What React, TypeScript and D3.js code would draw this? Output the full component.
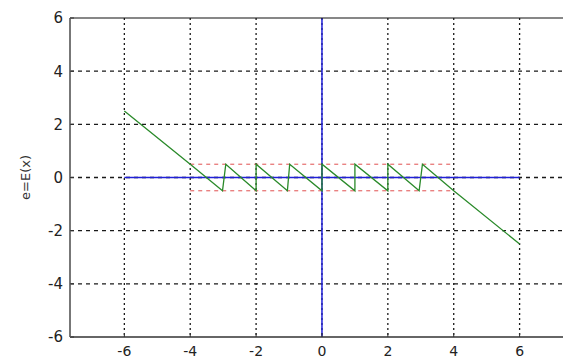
import React, { useEffect, useRef } from "react";
import * as d3 from "d3";

// quantisation error e = E(x)
const errX = [-6, -4, -3.02, -2.92, -2, -2, -1.05, -0.98, 0, 0, 1, 1, 2, 2, 2.95, 3.05, 4, 6];
const errY = [2.5, 0.5, -0.5, 0.5, -0.5, 0.5, -0.5, 0.5, -0.5, 0.5, -0.5, 0.5, -0.5, 0.5, -0.5, 0.5, -0.5, -2.5];

// error band limits (red dashed) and their x extent
const bandY = [0.5, -0.5];
const bandX = [-4, 4];

// blue reference axes
const zeroLineX = [-6, 6];
const zeroLineY = [-6, 6];

const xTicks = [-6, -4, -2, 0, 2, 4, 6];
const yTicks = [-6, -4, -2, 0, 2, 4, 6];
const yLabel = "e=E(x)";

export default function App() {
  const svgRef = useRef<SVGSVGElement>(null);

  useEffect(() => {
    if (!svgRef.current) return;
    const W = 563, H = 360;
    const svg = d3.select(svgRef.current);
    svg.selectAll("*").remove();

    const left = 70, right = 597, top = 18, bottom = 337;
    // axes box runs past the right edge of the picture (cropped)
    const x = d3.scaleLinear().domain([-7.65, 8.35]).range([left, right]);
    const y = d3.scaleLinear().domain([-6, 6]).range([bottom, top]);

    svg.append("rect").attr("width", W).attr("height", H).attr("fill", "#ffffff");

    // Grid
    const grid = svg.append("g");
    xTicks.forEach(t => {
      grid.append("line")
        .attr("x1", x(t)).attr("x2", x(t)).attr("y1", top).attr("y2", bottom)
        .attr("stroke", "#1a1a1a").attr("stroke-width", 1.3).attr("stroke-dasharray", "2,3");
    });
    yTicks.filter(t => t !== -6 && t !== 6).forEach(t => {
      grid.append("line")
        .attr("x1", left).attr("x2", W).attr("y1", y(t)).attr("y2", y(t))
        .attr("stroke", "#1a1a1a").attr("stroke-width", 1.3).attr("stroke-dasharray", "4,4");
    });

    // Red band
    bandY.forEach(v => {
      svg.append("line")
        .attr("x1", x(bandX[0])).attr("x2", x(bandX[1])).attr("y1", y(v)).attr("y2", y(v))
        .attr("stroke", "#e05050").attr("stroke-width", 1).attr("stroke-dasharray", "4,4");
    });

    // Blue zero lines
    svg.append("line")
      .attr("x1", x(zeroLineX[0])).attr("x2", x(zeroLineX[1])).attr("y1", y(0)).attr("y2", y(0))
      .attr("stroke", "#2020d8").attr("stroke-width", 1.5);
    svg.append("line")
      .attr("x1", x(0)).attr("x2", x(0)).attr("y1", y(zeroLineY[0])).attr("y2", y(zeroLineY[1]))
      .attr("stroke", "#2020d8").attr("stroke-width", 1.5);

    // Error curve
    const pts = errX.map((v, i) => [v, errY[i]] as [number, number]);
    const line = d3.line<[number, number]>().x(d => x(d[0])).y(d => y(d[1]));
    svg.append("path").datum(pts).attr("fill", "none")
      .attr("stroke", "#2a8a2a").attr("stroke-width", 1.3).attr("d", line);

    // Frame
    svg.append("line").attr("x1", left).attr("x2", W).attr("y1", top).attr("y2", top)
      .attr("stroke", "#111").attr("stroke-width", 1.2);
    svg.append("line").attr("x1", left).attr("x2", W).attr("y1", bottom).attr("y2", bottom)
      .attr("stroke", "#333").attr("stroke-width", 1.5);
    svg.append("line").attr("x1", left).attr("x2", left).attr("y1", top).attr("y2", bottom)
      .attr("stroke", "#777").attr("stroke-width", 2);

    // Ticks (inward)
    yTicks.forEach(t => {
      svg.append("line").attr("x1", left).attr("x2", left + 4).attr("y1", y(t)).attr("y2", y(t))
        .attr("stroke", "#333").attr("stroke-width", 1);
    });
    xTicks.forEach(t => {
      svg.append("line").attr("x1", x(t)).attr("x2", x(t)).attr("y1", bottom).attr("y2", bottom - 4)
        .attr("stroke", "#333").attr("stroke-width", 1);
    });

    // Tick labels
    const font = "'DejaVu Sans', sans-serif";
    yTicks.forEach(t => {
      svg.append("text").attr("x", left - 7).attr("y", y(t)).attr("dy", "0.36em")
        .attr("text-anchor", "end").style("font-family", font).style("font-size", "15px")
        .attr("fill", "#222").text(String(t));
    });
    xTicks.forEach(t => {
      svg.append("text").attr("x", x(t)).attr("y", bottom + 19)
        .attr("text-anchor", "middle").style("font-family", font).style("font-size", "14px")
        .attr("fill", "#222").text(String(t));
    });

    // Y axis label
    svg.append("text")
      .attr("transform", `translate(30,${y(0)}) rotate(-90)`)
      .attr("text-anchor", "middle")
      .style("font-family", font).style("font-size", "13px")
      .attr("fill", "#333").text(yLabel);
  }, []);

  return (
    <div style={{ position: "absolute", left: 0, top: 0 }}>
      <svg ref={svgRef} width={563} height={360} style={{ display: "block" }}></svg>
    </div>
  );
}
